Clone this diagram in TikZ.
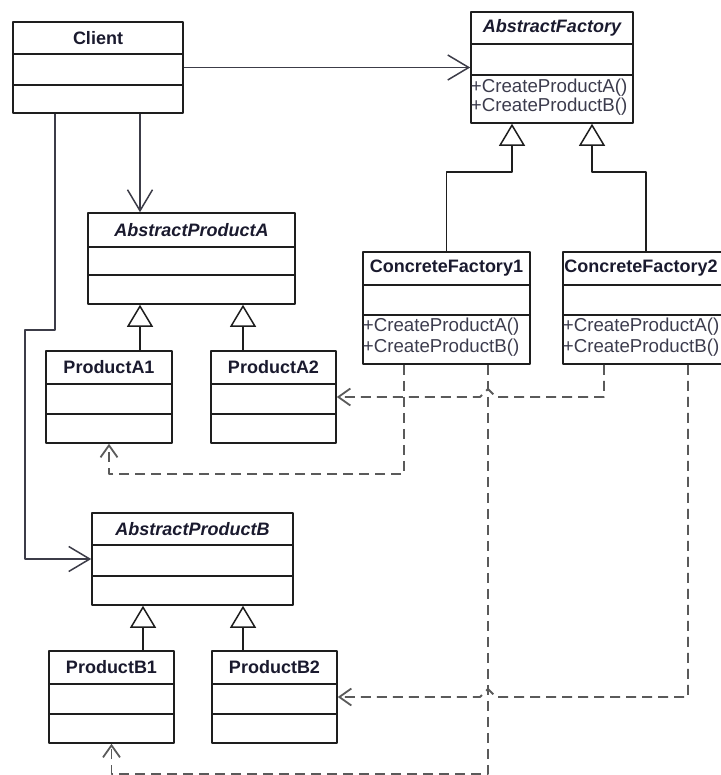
\documentclass[tikz,border=0pt]{standalone}
\usepackage{fontspec}
\setmainfont{Liberation Sans}
\usetikzlibrary{arrows.meta,calc,fit}
\definecolor{linec}{HTML}{1E1E1E}
\definecolor{textc}{HTML}{1A1A2E}
\definecolor{assocc}{HTML}{3C3C48}
\definecolor{depc}{HTML}{5A5A5A}

\begin{document}
\begin{tikzpicture}[x=1pt,y=-1pt,line join=round,
		box/.style={draw=linec,line width=1.6pt,inner sep=0pt},
		sep/.style={draw=linec,line width=1.6pt},
		cname/.style={font=\fontsize{18}{18}\selectfont\bfseries,text=textc},
		aname/.style={font=\fontsize{18}{18}\selectfont\bfseries\itshape,text=textc},
		oper/.style={font=\fontsize{18.7}{19}\selectfont,text=textc!85,anchor=west,inner sep=0.5pt},
		assoc/.style={draw=assocc,line width=1.5pt,-{Straight Barb[length=21pt,width=25pt]}},
		inherit/.style={draw=linec,line width=1.5pt,-{Triangle[length=22pt,width=26pt,fill=white]}},
		dep/.style={draw=depc,line width=1.8pt,dash pattern=on 10pt off 6pt,-{Straight Barb[length=12pt,width=17pt]}}]
		\useasboundingbox (0,0) rectangle (720,775);
		% name, left, top, right, bottom, first row, second row, title, style
		\def\umlclass#1#2#3#4#5#6#7#8#9{%
			\node[box,fit={(#2,#3) (#4,#5)}] (#1) {};
			\draw[sep] (#2,#6) -- (#4,#6);
			\draw[sep] (#2,#7) -- (#4,#7);
			\node[#9] (#1-name) at ({(#2+#4)/2},{(#3+#6)/2}) {#8};}
		
		\umlclass{client}{13}{22}{183}{113}{54}{85}{Client}{cname}
		\umlclass{af}{471}{12}{633}{123}{44}{75}{AbstractFactory}{aname}
		\umlclass{absA}{88}{213}{295}{304}{247}{275}{AbstractProductA}{aname}
		\umlclass{absB}{92}{513}{293}{605}{545}{576}{AbstractProductB}{aname}
		\umlclass{cf1}{363}{252}{530}{364}{285}{315}{ConcreteFactory1}{cname}
		\umlclass{cf2}{563}{252}{729}{364}{285}{315}{ConcreteFactory2}{cname,xshift=-5pt}
		\umlclass{pA1}{46}{351}{172}{443}{384}{414}{ProductA1}{cname}
		\umlclass{pA2}{211}{351}{336}{443}{384}{414}{ProductA2}{cname}
		\umlclass{pB1}{49}{651}{174}{743}{684}{714}{ProductB1}{cname}
		\umlclass{pB2}{212}{651}{337}{743}{684}{714}{ProductB2}{cname}
		
		\node[oper] (af-a) at ([yshift=-20.5pt]af.west) {+CreateProductA()};
		\node[oper] (af-b) at ([yshift=-39.5pt]af.west) {+CreateProductB()};
		\foreach \f in {cf1,cf2}{
			\node[oper] (\f-a) at ([yshift=-19pt]\f.west) {+CreateProductA()};
			\node[oper] (\f-b) at ([yshift=-40pt]\f.west) {+CreateProductB()};
		}
		
		% client uses
		\coordinate (bend) at (25,330);
		\draw[assoc] (client) -- (af);
		\draw[assoc] ([xshift=42pt]client.south) -- ([xshift=42pt]client.south |- absA.north);
		\draw[assoc] ([xshift=-43pt]client.south) |- (bend) |- (absB.west);
		
		% generalisation
		\draw[inherit] (cf1.north) -- ++(0,-79) -| ([xshift=-40pt]af.south);
		\draw[inherit] (cf2.north) -- ++(0,-79) -| ([xshift=40pt]af.south);
		\draw[inherit] ([xshift=31pt]pA1.north) -- ([xshift=31pt]pA1.north |- absA.south);
		\draw[inherit] ([xshift=-30.5pt]pA2.north) -- ([xshift=-30.5pt]pA2.north |- absA.south);
		\draw[inherit] ([xshift=31.5pt]pB1.north) -- ([xshift=31.5pt]pB1.north |- absB.south);
		\draw[inherit] ([xshift=-31.5pt]pB2.north) -- ([xshift=-31.5pt]pB2.north |- absB.south);
		
		% creates
		\coordinate (hopA) at ([xshift=41.5pt]cf1.south |- pA2.east);
		\coordinate (hopB) at ([xshift=41.5pt]cf1.south |- pB2.east);
		\draw[dep] ([xshift=-42.5pt]cf1.south) |- ([yshift=-30pt]pA1.south) -- (pA1.south);
		\draw[dep] ([xshift=41.5pt]cf1.south) |- ([yshift=-30pt]pB1.south) -- (pB1.south);
		\draw[dep] ([xshift=-42pt]cf2.south) |- ([xshift=8pt]hopA) -- ([yshift=8pt]hopA) -- ([xshift=-8pt]hopA) -- (pA2.east);
		\draw[dep] ([xshift=42pt]cf2.south) |- ([xshift=8pt]hopB) -- ([yshift=8pt]hopB) -- ([xshift=-8pt]hopB) -- (pB2.east);
\end{tikzpicture}
\end{document}
